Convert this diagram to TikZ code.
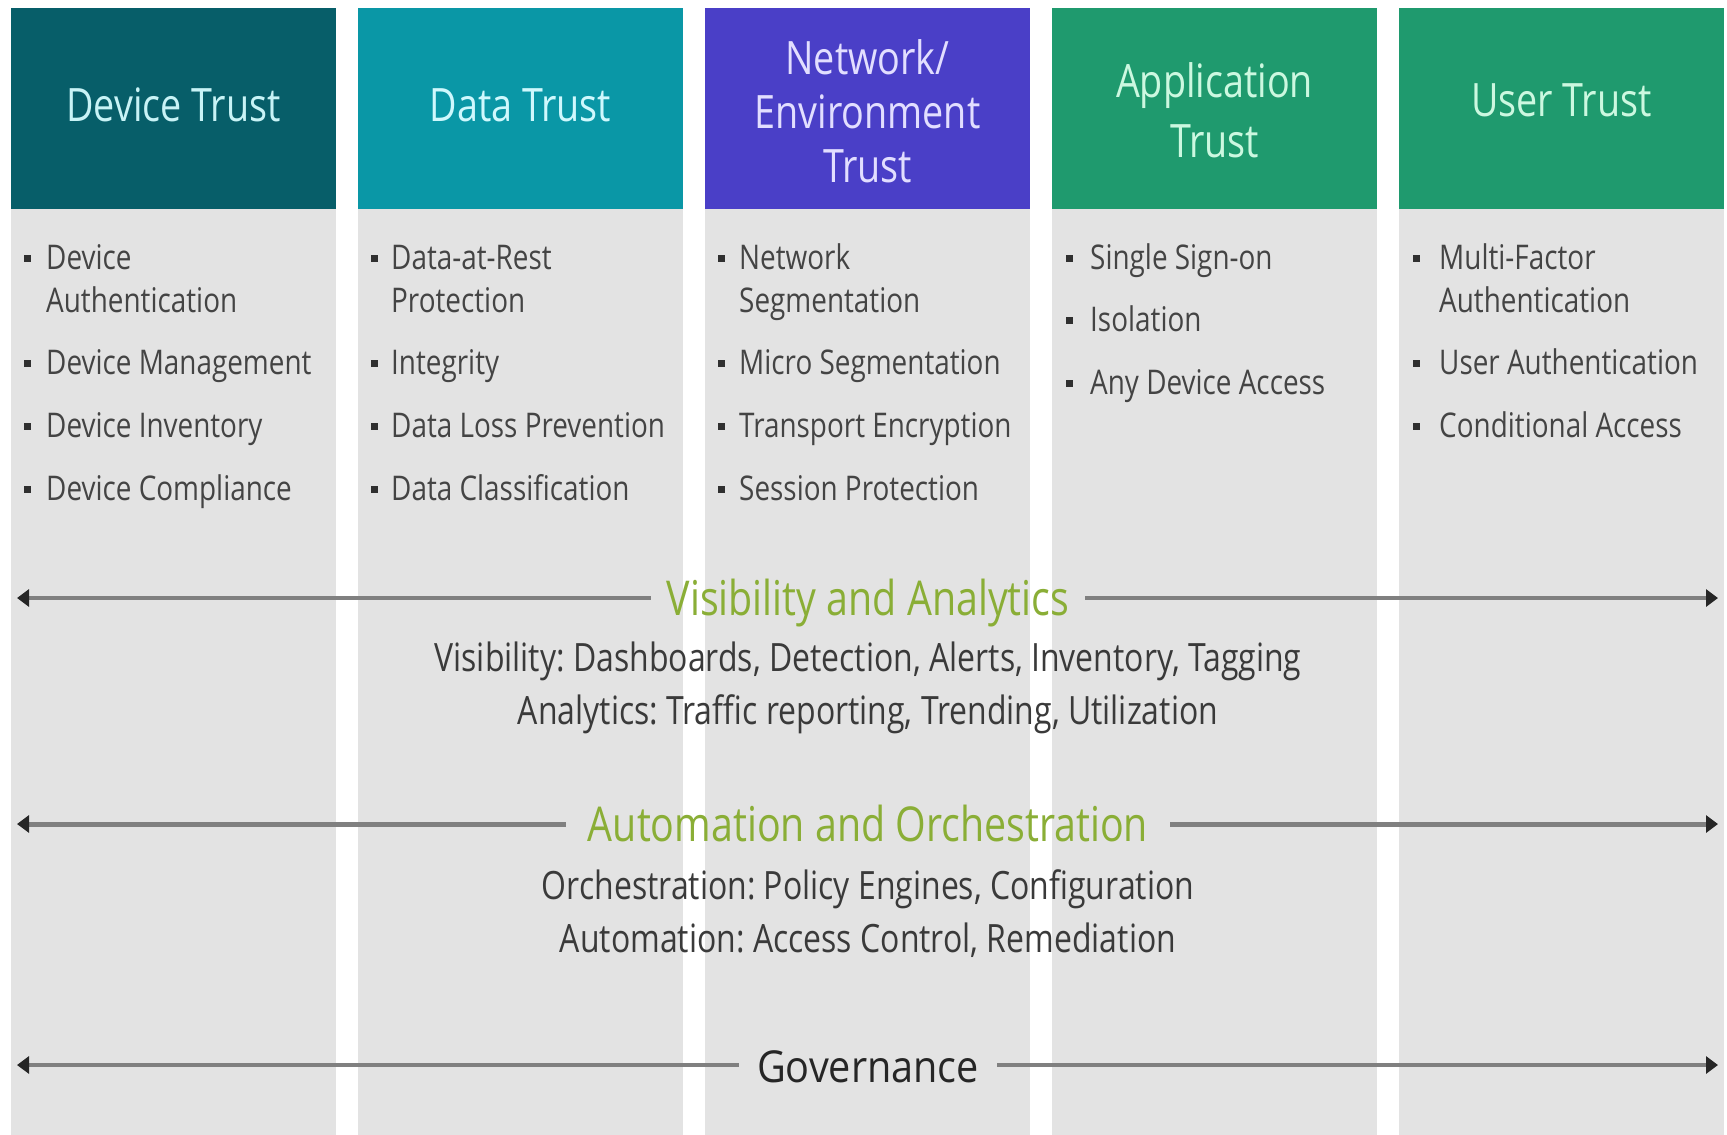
\documentclass[tikz,border=0pt]{standalone}
\usepackage{fontspec}
\setmainfont{Open Sans}[FakeStretch=0.82]
\newfontfamily\govfont{Open Sans}[FakeStretch=0.9]
\usetikzlibrary{arrows.meta}
\frenchspacing
\definecolor{cDev}{HTML}{075E69}
\definecolor{cData}{HTML}{0A97A6}
\definecolor{cNet}{HTML}{4A3FC7}
\definecolor{cApp}{HTML}{1F9A6E}
\definecolor{cBody}{HTML}{E3E3E3}
\definecolor{cTxt}{HTML}{444444}
\definecolor{cSub}{HTML}{3A3A3A}
\definecolor{cGreen}{HTML}{8AAE36}
\definecolor{cLine}{HTML}{808080}
\definecolor{tDev}{HTML}{C8F3F6}
\definecolor{tData}{HTML}{CFF8FD}
\definecolor{tNet}{HTML}{E2DEFF}
\definecolor{tApp}{HTML}{CCF8E0}
\begin{document}
\begin{tikzpicture}[x=1pt,y=-1pt,
  hdr/.style={anchor=north west, minimum width=325pt, minimum height=201pt, inner sep=0pt},
  colbody/.style={anchor=north west, fill=cBody, minimum width=325pt, minimum height=926pt, inner sep=0pt},
  hdrtxt/.style={align=center, inner sep=0pt, font=\fontsize{46}{54}\selectfont},
  item/.style={anchor=base west, inner sep=0pt, text=cTxt, font=\fontsize{34}{43}\selectfont},
  bul/.style={fill=cTxt!70!black, minimum size=7pt, inner sep=0pt},
  ttl/.style={text=cGreen, font=\fontsize{48}{48}\selectfont, inner xsep=16pt, inner ysep=0pt, text height=34pt, text depth=0pt},
  sub/.style={anchor=base, inner sep=0pt, text=cSub, font=\fontsize{39}{39}\selectfont},
  arr/.style={draw=cLine, line width=3.5pt, -{Triangle[length=12pt,width=17pt,color=black!85]}}
]
\useasboundingbox (0,0) rectangle (1727,1135);
\fill[white] (0,0) rectangle (1727,1135);

% column bodies
\node[colbody] (b1) at (11,209) {};
\node[colbody] (b2) at (358,209) {};
\node[colbody] (b3) at (705,209) {};
\node[colbody] (b4) at (1052,209) {};
\node[colbody] (b5) at (1399,209) {};

% headers
\node[hdr, fill=cDev] (h1) at (11,8) {};
\node[hdr, fill=cData] (h2) at (358,8) {};
\node[hdr, fill=cNet] (h3) at (705,8) {};
\node[hdr, fill=cApp] (h4) at (1052,8) {};
\node[hdr, fill=cApp] (h5) at (1399,8) {};

\node[hdrtxt, text=tDev] (t1) at (173.5,105) {Device Trust};
\node[hdrtxt, text=tData] (t2) at (520.5,105) {Data Trust};
\node[hdrtxt, text=tNet] (t3) at (867.5,111) {Network/\\Environment\\Trust};
\node[hdrtxt, text=tApp, font=\fontsize{46}{60}\selectfont] (t4) at (1214.5,110) {Application\\Trust};
\node[hdrtxt, text=tApp] (t5) at (1561.5,100) {User Trust};

% column 1
\node[bul] (p11) at (27,258) {};
\node[item] (i11) at (46,269) {Device};
\node[item] (i11b) at (46,312) {Authentication};
\node[bul] (p12) at (27,363) {};
\node[item] (i12) at (46,374) {Device Management};
\node[bul] (p13) at (27,426) {};
\node[item] (i13) at (46,437) {Device Inventory};
\node[bul] (p14) at (27,489) {};
\node[item] (i14) at (46,500) {Device Compliance};

% column 2
\node[bul] (p21) at (374,258) {};
\node[item] (i21) at (391,269) {Data-at-Rest};
\node[item] (i21b) at (391,312) {Protection};
\node[bul] (p22) at (374,363) {};
\node[item] (i22) at (391,374) {Integrity};
\node[bul] (p23) at (374,426) {};
\node[item] (i23) at (391,437) {Data Loss Prevention};
\node[bul] (p24) at (374,489) {};
\node[item] (i24) at (391,500) {Data Classification};

% column 3
\node[bul] (p31) at (721,258) {};
\node[item] (i31) at (739,269) {Network};
\node[item] (i31b) at (739,312) {Segmentation};
\node[bul] (p32) at (721,363) {};
\node[item] (i32) at (739,374) {Micro Segmentation};
\node[bul] (p33) at (721,426) {};
\node[item] (i33) at (739,437) {Transport Encryption};
\node[bul] (p34) at (721,489) {};
\node[item] (i34) at (739,500) {Session Protection};

% column 4
\node[bul] (p41) at (1069,258) {};
\node[item] (i41) at (1090,269) {Single Sign-on};
\node[bul] (p42) at (1069,320) {};
\node[item] (i42) at (1090,331) {Isolation};
\node[bul] (p43) at (1069,383) {};
\node[item] (i43) at (1090,394) {Any Device Access};

% column 5
\node[bul] (p51) at (1416,258) {};
\node[item] (i51) at (1439,269) {Multi-Factor};
\node[item] (i51b) at (1439,312) {Authentication};
\node[bul] (p52) at (1416,363) {};
\node[item] (i52) at (1439,374) {User Authentication};
\node[bul] (p53) at (1416,426) {};
\node[item] (i53) at (1439,437) {Conditional Access};

% Visibility and Analytics
\coordinate (vL) at (17,598);
\coordinate (vR) at (1718,598);
\node[ttl] (vis) at (868,598) {Visibility and Analytics};
\draw[arr] (vis.west) -- (vL);
\draw[arr] (vis.east) -- (vR);
\node[sub] (vis1) at (868,671) {Visibility: Dashboards, Detection, Alerts, Inventory, Tagging};
\node[sub] (vis2) at (868,724) {Analytics: Traffic reporting, Trending, Utilization};

% Automation and Orchestration
\coordinate (aL) at (17,824);
\coordinate (aR) at (1718,824);
\node[ttl, inner xsep=22pt] (auto) at (868,824) {Automation and Orchestration};
\draw[arr, line width=5pt] (auto.west) -- (aL);
\draw[arr, line width=5pt] (auto.east) -- (aR);
\node[sub] (auto1) at (868,899) {Orchestration: Policy Engines, Configuration};
\node[sub] (auto2) at (868,952) {Automation: Access Control, Remediation};

% Governance
\coordinate (gL) at (17,1065);
\coordinate (gR) at (1718,1065);
\node[ttl, text=black!85, font=\govfont\fontsize{44}{44}\selectfont, inner xsep=18pt] (gov) at (868,1065) {Governance};
\draw[arr] (gov.west) -- (gL);
\draw[arr] (gov.east) -- (gR);
\end{tikzpicture}
\end{document}
